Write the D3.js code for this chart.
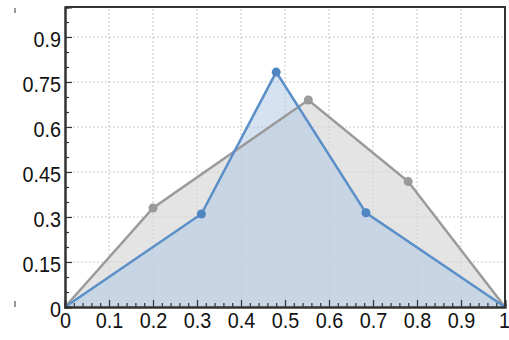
<!DOCTYPE html>
<html><head><meta charset="utf-8">
<script src="https://cdn.jsdelivr.net/npm/d3@7"></script>
<style>html,body{margin:0;padding:0;background:#fff;}svg{display:block;}</style>
</head><body>
<svg id="chart" width="509" height="340"></svg>
<script>
const grayX = [0, 0.2, 0.553, 0.78, 1];
const grayY = [0, 0.33, 0.69, 0.418, 0];
const blueX = [0, 0.31, 0.48, 0.684, 1];
const blueY = [0, 0.31, 0.783, 0.314, 0];
const xTicks = [0, 0.1, 0.2, 0.3, 0.4, 0.5, 0.6, 0.7, 0.8, 0.9, 1];
const xTickLabels = ["0", "0.1", "0.2", "0.3", "0.4", "0.5", "0.6", "0.7", "0.8", "0.9", "1"];
const yTicks = [0, 0.15, 0.3, 0.45, 0.6, 0.75, 0.9];
const yTickLabels = ["0", "0.15", "0.3", "0.45", "0.6", "0.75", "0.9"];

const svg = d3.select("#chart");
const x = d3.scaleLinear().domain([0, 1]).range([65, 505]);
const y = d3.scaleLinear().domain([0, 1]).range([307, 7]);
const font = "'Liberation Sans', Arial, sans-serif";
const sx = 0.9;

// grid
const grid = svg.append("g");
xTicks.slice(1, -1).forEach(t => grid.append("line")
  .attr("x1", x(t)).attr("x2", x(t)).attr("y1", y(0)).attr("y2", y(1))
  .attr("stroke", "#c8c8c8").attr("stroke-width", 1).attr("stroke-dasharray", "2,2"));
yTicks.slice(1).forEach(t => grid.append("line")
  .attr("x1", x(0)).attr("x2", x(1)).attr("y1", y(t)).attr("y2", y(t))
  .attr("stroke", "#c8c8c8").attr("stroke-width", 1).attr("stroke-dasharray", "2,2"));

const gray = grayX.map((v, i) => [v, grayY[i]]);
const blue = blueX.map((v, i) => [v, blueY[i]]);
const area = d3.area().x(d => x(d[0])).y0(y(0)).y1(d => y(d[1]));
const line = d3.line().x(d => x(d[0])).y(d => y(d[1]));

svg.append("path").attr("d", area(gray)).attr("fill", "#d9d9d9").attr("fill-opacity", 0.7);
svg.append("path").attr("d", area(blue)).attr("fill", "#a9c6e6").attr("fill-opacity", 0.5);
svg.append("path").attr("d", line(gray)).attr("fill", "none").attr("stroke", "#9a9a9a").attr("stroke-width", 2.5);
svg.append("path").attr("d", line(blue)).attr("fill", "none").attr("stroke", "#5a8fc8").attr("stroke-width", 2.5);
svg.append("g").selectAll("circle").data(gray.slice(1, -1)).join("circle")
  .attr("cx", d => x(d[0])).attr("cy", d => y(d[1])).attr("r", 4.5).attr("fill", "#9a9a9a");
svg.append("g").selectAll("circle").data(blue.slice(1, -1)).join("circle")
  .attr("cx", d => x(d[0])).attr("cy", d => y(d[1])).attr("r", 4.5).attr("fill", "#4f86c2");

// axes with inward ticks
const xMinor = d3.range(0, 1.0001, 0.02).filter(v => Math.abs(Math.round(v * 10) - v * 10) > 1e-6);
const yMinor = d3.range(0, 1.0001, 0.05).filter(v => Math.abs(Math.round(v / 0.15) - v / 0.15) > 1e-6);

const xAxis = svg.append("g").attr("transform", `translate(0,${y(0)})`)
  .call(d3.axisBottom(x).tickValues(xTicks).tickSize(-7).tickFormat((d, i) => xTickLabels[i]));
const xAxisMinor = svg.append("g").attr("transform", `translate(0,${y(0)})`)
  .call(d3.axisBottom(x).tickValues(xMinor).tickSize(-4).tickFormat(""));
const yAxis = svg.append("g").attr("transform", `translate(${x(0)},0)`)
  .call(d3.axisLeft(y).tickValues(yTicks).tickSize(-7).tickFormat((d, i) => yTickLabels[i]));
const yAxisMinor = svg.append("g").attr("transform", `translate(${x(0)},0)`)
  .call(d3.axisLeft(y).tickValues(yMinor).tickSize(-4).tickFormat(""));

[xAxis, xAxisMinor, yAxis, yAxisMinor].forEach(g => {
  g.select(".domain").attr("stroke", "#333").attr("stroke-width", 2);
  g.selectAll(".tick line").attr("stroke", "#333").attr("stroke-width", 1.2);
});
xAxis.selectAll(".tick text").attr("font-family", font).attr("font-size", 22).attr("fill", "#111")
  .attr("dy", "0.86em").attr("y", 2).attr("transform", `scale(${sx},1)`);
xAxis.selectAll(".tick").filter(d => d === 1).select("text").attr("dx", -1);
yAxis.selectAll(".tick text").attr("font-family", font).attr("font-size", 22).attr("fill", "#111")
  .attr("x", -4 / sx).attr("dy", "0.42em").attr("transform", `scale(${sx},1)`);

// top and right borders
svg.append("line").attr("x1", x(0)).attr("x2", x(1) + 1).attr("y1", y(1)).attr("y2", y(1)).attr("stroke", "#333").attr("stroke-width", 2);
svg.append("line").attr("x1", x(1)).attr("x2", x(1)).attr("y1", y(1)).attr("y2", y(0)).attr("stroke", "#333").attr("stroke-width", 2);

// small stray marks at left
svg.append("line").attr("x1", 15).attr("x2", 15).attr("y1", 8).attr("y2", 13).attr("stroke", "#555").attr("stroke-width", 1.2);
svg.append("line").attr("x1", 15).attr("x2", 15).attr("y1", 301).attr("y2", 307).attr("stroke", "#555").attr("stroke-width", 1.2);
</script>
</body></html>
